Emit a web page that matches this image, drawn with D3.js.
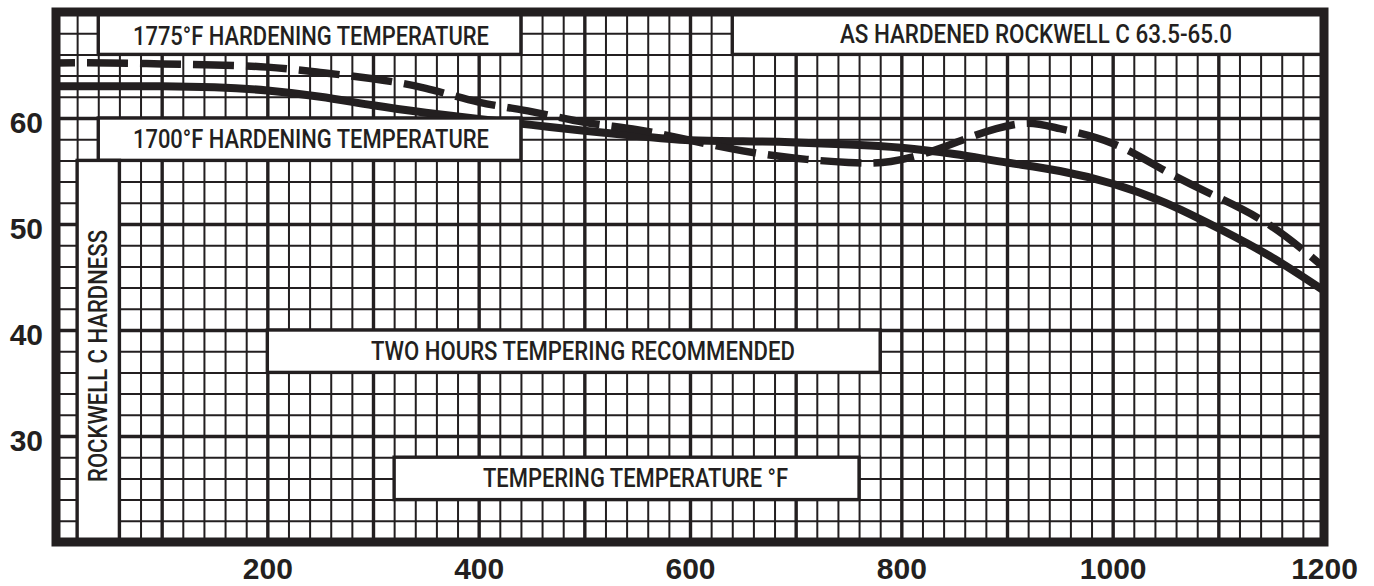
<!DOCTYPE html>
<html>
<head>
<meta charset="utf-8">
<script src="https://cdn.jsdelivr.net/npm/d3@7"></script>
<style>
  html, body { margin: 0; padding: 0; background: #ffffff; }
  svg { display: block; }
</style>
</head>
<body>
<svg id="chart" width="1374" height="586"></svg>
<script>
// ---------------- DATA ----------------
const temps1700 = [0, 50, 100, 150, 200, 250, 300, 350, 400, 450, 500, 550, 600, 650, 700, 750, 800, 850, 900, 950, 1000, 1050, 1100, 1150, 1200];
const hardness1700 = [63.0, 63.0, 63.0, 62.9, 62.6, 62.0, 61.2, 60.5, 59.9, 59.35, 58.8, 58.3, 57.9, 57.8, 57.7, 57.5, 57.2, 56.6, 55.8, 55.0, 53.8, 52.0, 49.6, 46.9, 43.7];

const temps1775 = [0, 50, 100, 150, 200, 250, 300, 350, 400, 450, 500, 550, 600, 650, 700, 750, 790, 830, 860, 890, 920, 950, 1000, 1050, 1100, 1150, 1200];
const hardness1775 = [65.2, 65.2, 65.1, 65.0, 64.8, 64.3, 63.7, 62.8, 61.5, 60.6, 59.6, 58.9, 57.9, 56.9, 56.2, 55.8, 55.9, 56.9, 58.0, 59.0, 59.5, 59.0, 57.6, 55.0, 52.5, 49.8, 45.9];

const xTickLabels = [200, 400, 600, 800, 1000, 1200];
const yTickLabels = [30, 40, 50, 60];

const xMinorStep = 20, xMajorStep = 100;
const yMinorStep = 2, yMajorStep = 10;

// annotation boxes, in data units (temperature, hardness)
const boxTexts = [
  "1775°F HARDENING TEMPERATURE",
  "1700°F HARDENING TEMPERATURE",
  "AS HARDENED ROCKWELL C 63.5-65.0",
  "TWO HOURS TEMPERING RECOMMENDED",
  "TEMPERING TEMPERATURE °F",
  "ROCKWELL C HARDNESS"
];
const boxX0 = [40, 40, 640, 200, 320, 20];
const boxX1 = [440, 440, 1200, 780, 760, 60];
const boxY0 = [66, 56, 66, 36, 24, 20];
const boxY1 = [70, 60, 70, 40, 28, 56];

// ---------------- LAYOUT ----------------
const ink = "#231f20";
const svg = d3.select("#chart");
const x = d3.scaleLinear().domain([0, 1200]).range([56, 1324]);
const y = d3.scaleLinear().domain([20, 70]).range([542, 12]);

svg.append("rect").attr("width", 1374).attr("height", 586).attr("fill", "#fff");

// text placement (data units) and widths in px
const textX = [241.3, 241.3, 927.4, 498.7, 548.4, 48.3];
const textY = [66.9, 57.17, 67.08, 37.17, 25.19, 37.55];
const textW = [356, 356, 392, 424, 305, 252];

// ---------------- GRID ----------------
const xMinor = d3.range(0, 1200 + 1, xMinorStep);
const yMinor = d3.range(20, 70 + 1, yMinorStep);

const grid = svg.append("g");
grid.append("g")
  .attr("transform", `translate(0,${y.range()[0]})`)
  .call(d3.axisBottom(x).tickValues(xMinor).tickSize(-(y.range()[0] - y.range()[1])).tickFormat(""))
  .call(g => g.select(".domain").remove())
  .call(g => g.selectAll(".tick line")
      .attr("stroke", ink)
      .attr("stroke-width", d => d % xMajorStep === 0 ? 3.4 : 2));

grid.append("g")
  .attr("transform", `translate(${x.range()[0]},0)`)
  .call(d3.axisLeft(y).tickValues(yMinor).tickSize(-(x.range()[1] - x.range()[0])).tickFormat(""))
  .call(g => g.select(".domain").remove())
  .call(g => g.selectAll(".tick line")
      .attr("stroke", ink)
      .attr("stroke-width", d => d % yMajorStep === 0 ? 3.4 : 2));

// ---------------- CURVES ----------------
svg.append("clipPath").attr("id", "plotclip")
  .append("rect")
  .attr("x", x.range()[0]).attr("y", y.range()[1])
  .attr("width", x.range()[1] - x.range()[0])
  .attr("height", y.range()[0] - y.range()[1]);

const line = d3.line()
  .x(d => x(d[0]))
  .y(d => y(d[1]))
  .curve(d3.curveNatural);

const curves = svg.append("g").attr("clip-path", "url(#plotclip)");
curves.append("path")
  .datum(d3.zip(temps1700, hardness1700))
  .attr("d", line)
  .attr("fill", "none")
  .attr("stroke", ink)
  .attr("stroke-width", 8);

curves.append("path")
  .datum(d3.zip(temps1775, hardness1775))
  .attr("d", line)
  .attr("fill", "none")
  .attr("stroke", ink)
  .attr("stroke-width", 7.5)
  .attr("stroke-dasharray", "41,12")
  .attr("stroke-dashoffset", 22);

// ---------------- BOXES ----------------
const boxes = svg.append("g");
boxTexts.forEach((t, i) => {
  boxes.append("rect")
    .attr("x", x(boxX0[i]))
    .attr("y", y(boxY1[i]))
    .attr("width", x(boxX1[i]) - x(boxX0[i]))
    .attr("height", y(boxY0[i]) - y(boxY1[i]))
    .attr("fill", "#fff")
    .attr("stroke", ink)
    .attr("stroke-width", 3.4);
});
boxTexts.forEach((t, i) => {
  const tx = boxes.append("text")
    .attr("text-anchor", "middle")
    .attr("font-family", "Roboto, 'Liberation Sans', Arial, sans-serif")
    .attr("font-weight", 500)
    .attr("font-size", 25)
    .attr("fill", ink)
    .attr("textLength", textW[i])
    .attr("lengthAdjust", "spacingAndGlyphs")
    .text(t);
  if (i === 5) {
    tx.attr("transform", `translate(${x(textX[i])},${y(textY[i])}) rotate(-90)`);
  } else {
    tx.attr("x", x(textX[i])).attr("y", y(textY[i]));
  }
});

// ---------------- FRAME ----------------
svg.append("rect")
  .attr("x", x.range()[0]).attr("y", y.range()[1])
  .attr("width", x.range()[1] - x.range()[0])
  .attr("height", y.range()[0] - y.range()[1])
  .attr("fill", "none")
  .attr("stroke", ink)
  .attr("stroke-width", 9);

// ---------------- AXIS LABELS ----------------
const xAxis = svg.append("g")
  .attr("transform", `translate(0,${y.range()[0]})`)
  .call(d3.axisBottom(x).tickValues(xTickLabels).tickSize(0).tickPadding(0).tickFormat(d3.format("d")))
  .call(g => g.select(".domain").remove());
xAxis.selectAll("text")
  .attr("dy", null)
  .attr("y", 37)
  .attr("font-family", "'Liberation Sans', Arial, sans-serif")
  .attr("font-weight", "bold")
  .attr("font-size", 30)
  .attr("fill", ink);

const yAxis = svg.append("g")
  .attr("transform", `translate(43,0)`)
  .call(d3.axisLeft(y).tickValues(yTickLabels).tickSize(0).tickPadding(0).tickFormat(d3.format("d")))
  .call(g => g.select(".domain").remove());
yAxis.selectAll("text")
  .attr("dy", null)
  .attr("x", 0)
  .attr("y", 14)
  .attr("text-anchor", "end")
  .attr("font-family", "'Liberation Sans', Arial, sans-serif")
  .attr("font-weight", "bold")
  .attr("font-size", 30)
  .attr("fill", ink);
</script>
</body>
</html>
